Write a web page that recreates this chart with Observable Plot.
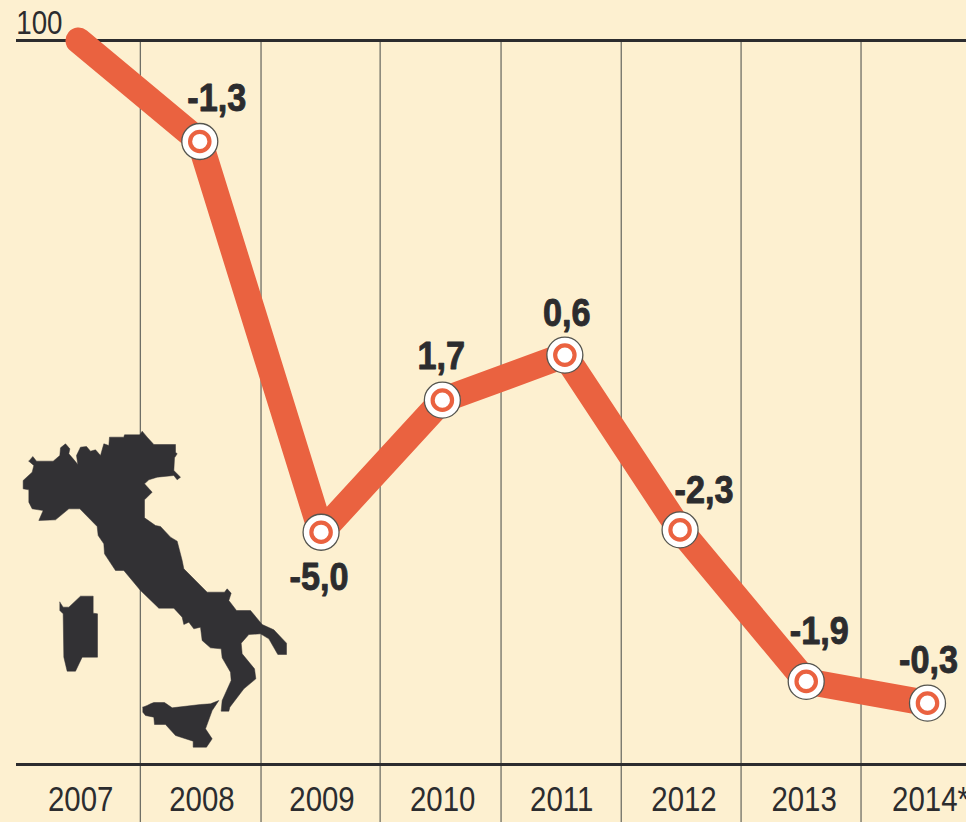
<!DOCTYPE html>
<html>
<head>
<meta charset="utf-8">
<script src="https://cdn.jsdelivr.net/npm/d3@7"></script>
<script src="https://cdn.jsdelivr.net/npm/@observablehq/plot@0.6"></script>
<style>
html,body{margin:0;padding:0;background:#fdf0d0;overflow:hidden}
svg{display:block}
</style>
</head>
<body>
<div id="chart"></div>
<script>
const years = [2007, 2008, 2009, 2010, 2011, 2012, 2013, 2014];
const tickLabels = ["2007", "2008", "2009", "2010", "2011", "2012", "2013", "2014*"];
// Tick and point positions along the time axis as drawn (the artwork is slightly irregular)
const tickYears = [2007.02, 2008.02, 2009.01, 2010.005, 2010.995, 2011.995, 2012.985, 2013.98];
const drawnYear = [2007, 2008, 2009, 2010, 2011.01, 2011.96, 2013, 2014];
const indexValues = [100, 98.7, 93.67, 95.37, 95.95, 93.7, 91.75, 91.47];
const changeLabels = ["", "-1,3", "-5,0", "1,7", "0,6", "-2,3", "-1,9", "-0,3"];
const labelDx = [0, 17, -2, -1, 2, 24, 13, 1];
const labelDy = [0, -43, 46, -43, -41, -39, -50, -42];
const dividers = [2007.51, 2008.505, 2009.487, 2010.484, 2011.475, 2012.463, 2013.452];
const baseIndex = 90.68, topIndex = 100, bottomEdge = 89.93;

// Decorative silhouette of Italy, traced outline units
const mainland = [[85,122],[97,108],[108,122],[158,122],[178,105],[180,82],[195,70],[208,85],[205,100],[218,115],[232,132],[228,105],[240,80],[258,78],[270,92],[285,88],[300,105],[310,70],[325,75],[327,50],[370,50],[372,43],[418,43],[425,32],[440,50],[460,72],[525,72],[525,95],[530,100],[522,112],[520,150],[540,170],[530,178],[520,165],[470,170],[445,178],[432,190],[455,215],[432,238],[432,292],[465,315],[480,318],[510,350],[530,362],[545,420],[550,445],[620,515],[672,515],[680,505],[692,518],[685,540],[708,570],[750,570],[785,612],[820,628],[858,668],[858,702],[832,702],[805,655],[780,640],[745,642],[722,668],[725,700],[762,745],[766,775],[730,805],[688,860],[685,872],[662,872],[665,840],[692,780],[690,755],[665,712],[662,685],[630,682],[605,660],[600,620],[580,625],[565,605],[550,612],[545,590],[520,563],[475,563],[420,510],[370,450],[345,450],[312,400],[310,370],[293,345],[290,318],[238,265],[205,265],[165,298],[115,300],[128,270],[95,265],[85,245],[85,208],[68,205],[68,180],[95,155],[100,135]];
const sardinia = [[178,545],[188,560],[205,560],[240,527],[278,527],[278,578],[291,580],[291,710],[245,710],[225,752],[200,752],[190,710],[188,580],[178,570]];
const sicily = [[427,860],[440,855],[450,850],[460,846],[492,846],[515,862],[600,852],[630,850],[655,840],[635,870],[615,925],[635,955],[618,980],[578,980],[578,962],[525,945],[495,912],[462,912],[460,890],[435,885],[427,875]];

const W = 966, H = 822, mTop = 40, mBottom = 58, xLeft = 78, xRight = 927;
const outlineYear = u => 2007 + (u / 3 - xLeft) / ((xRight - xLeft) / 7);
const outlineIndex = v => topIndex - ((v / 3 + 420) - mTop) * (topIndex - baseIndex) / (H - mTop - mBottom);
const shape = [mainland, sardinia, sicily].flatMap((pts, k) =>
  pts.concat([pts[0]]).map(([u, v]) => ({k, x: outlineYear(u), y: outlineIndex(v)})));

const data = years.map((y, i) => ({year: y, x: drawnYear[i], v: indexValues[i], label: changeLabels[i]}));
const RED = "#ea6240", INK = "#2c2c2e", GRID = "#6f6f66";
const FONT = "'Liberation Sans',sans-serif";

const plot = Plot.plot({
  width: W, height: H,
  marginTop: mTop, marginBottom: mBottom, marginLeft: xLeft, marginRight: W - xRight,
  style: {background: "#fdf0d0", fontFamily: FONT},
  x: {domain: [2007, 2014], axis: null},
  y: {domain: [baseIndex, topIndex], axis: null},
  marks: [
    Plot.ruleX(dividers, {x: d => d, y1: topIndex, y2: bottomEdge, stroke: GRID, strokeWidth: 1.3}),
    Plot.ruleY([topIndex, baseIndex], {y: d => d, x1: 2007 - 62 / 121.3, x2: 2014 + 39 / 121.3, stroke: INK, strokeWidth: 3}),
    Plot.line(shape, {x: "x", y: "y", z: "k", fill: "#323134", stroke: "#323134", strokeWidth: 0.5, curve: "linear"}),
    Plot.line(data, {x: "x", y: "v", stroke: RED, strokeWidth: 26, strokeLinecap: "round", strokeLinejoin: "round"}),
    Plot.dot(data.slice(1), {x: "x", y: "v", r: 18, fill: "#fff", stroke: "#55554f", strokeWidth: 1.3}),
    Plot.dot(data.slice(1), {x: "x", y: "v", r: 9.7, fill: "#fff", stroke: RED, strokeWidth: 4.2}),
    ...data.slice(1).map((d, i) =>
      Plot.text([d], {x: "x", y: "v", text: "label", dx: labelDx[i + 1], dy: labelDy[i + 1],
        fontSize: 38, fontWeight: 700, fill: INK, stroke: INK, strokeWidth: 0.9, textAnchor: "middle", lineAnchor: "middle"})),
    Plot.text(["100"], {x: 2007, y: topIndex, text: d => d, dx: -16, dy: -17, textAnchor: "end", fontSize: 33, fill: INK, lineAnchor: "middle"}),
    Plot.axisX({ticks: tickYears, tickSize: 0, tickPadding: 22, tickFormat: d => tickLabels[tickYears.indexOf(d)],
      label: null, anchor: "bottom", fontSize: 35, fill: INK, textAnchor: "start", dx: -33})
  ]
});
document.getElementById("chart").append(plot);
// The source typeface is condensed: narrow each text to the same width.
d3.select(plot).selectAll("text").each(function () {
  const bold = +this.getAttribute("font-weight") === 700 || (this.parentNode && this.parentNode.getAttribute("font-weight") == 700);
  this.setAttribute("textLength", this.getComputedTextLength() * (bold ? 0.9 : 0.84));
  this.setAttribute("lengthAdjust", "spacingAndGlyphs");
});
</script>
</body>
</html>
